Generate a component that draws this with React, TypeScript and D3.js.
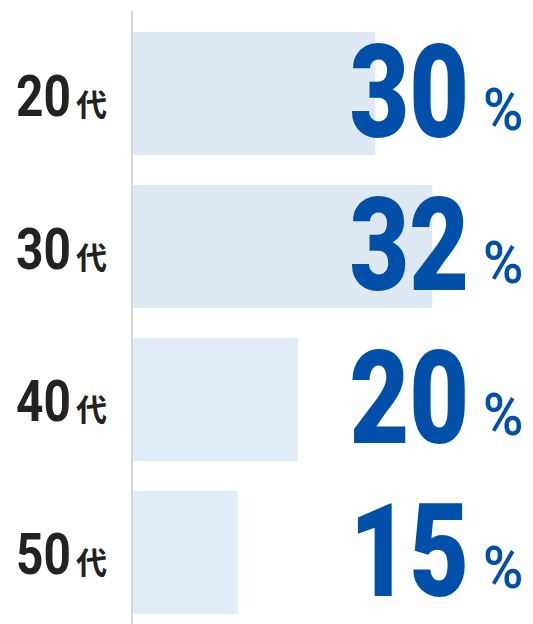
import React from 'react'
import * as d3 from 'd3'

const width = 533
const height = 624

const categories = ['20代', '30代', '40代', '50代']
const percents = [30, 32, 20, 15]
// bar lengths as drawn (not proportional to the printed percent)
const barValues = [30.3, 37.4, 20.6, 13.1]

const axisX = 132
const blue = '#0050a9'

const App = () => {
  const yScale = d3
    .scaleBand()
    .domain(categories)
    .range([32, 614])
    .paddingInner(0.196)
    .paddingOuter(0)
  const xScale = d3.scaleLinear().domain([0, 50]).range([133, 533])

  return (
    <div style={{ position: 'absolute', left: 0, top: 0 }}>
      <svg width={width} height={height} style={{ display: 'block' }}>
        <rect width={width} height={height} fill="#fff" />
        {categories.map((c, i) => {
          const y0 = yScale(c)!
          const cy = y0 + yScale.bandwidth() / 2
          return (
            <g key={c}>
              <rect
                x={xScale(0)}
                y={y0}
                width={xScale(barValues[i]) - xScale(0)}
                height={yScale.bandwidth()}
                fill={i < 2 ? '#dfe9f4' : '#e0ecf6'}
              />
              <g transform={`translate(16,${cy + 22}) scale(0.84,1)`}>
                <text fill="#222" fontFamily="Roboto" fontWeight={700} fontSize={57}>
                  {c.slice(0, 2)}
                </text>
              </g>
              <text
                x={76}
                y={cy + 22}
                fill="#222"
                fontFamily="'Noto Sans CJK JP'"
                fontWeight={700}
                fontSize={31}
              >
                {c.slice(2)}
              </text>
              <g transform={`translate(469,${cy + 43.5}) scale(0.8,1)`}>
                <text
                  textAnchor="end"
                  fill={blue}
                  fontFamily="Roboto"
                  fontWeight={900}
                  fontSize={129}
                >
                  {percents[i]}
                </text>
              </g>
              <g transform={`translate(483,${cy + 36}) scale(0.93,1)`}>
                <text fill={blue} fontFamily="Roboto" fontWeight={500} fontSize={59}>
                  %
                </text>
              </g>
            </g>
          )
        })}
        <line x1={axisX} x2={axisX} y1={11} y2={height} stroke="#d6d6d6" strokeWidth={2} />
      </svg>
    </div>
  )
}

export default App
